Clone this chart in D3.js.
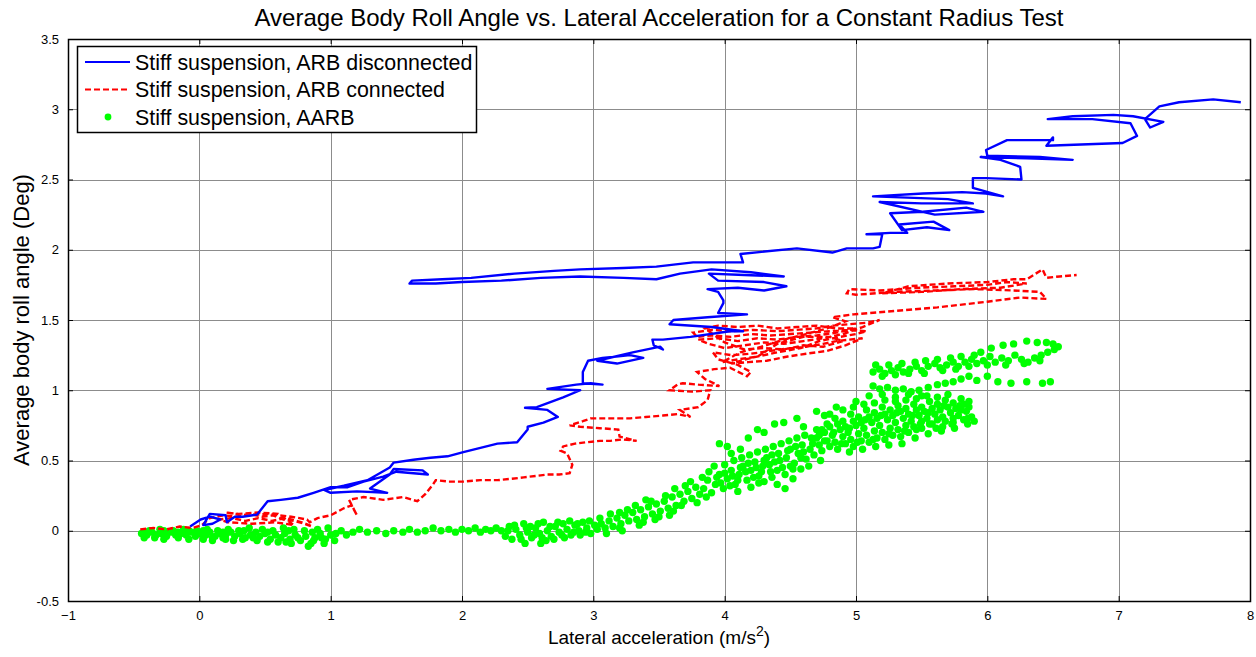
<!DOCTYPE html>
<html>
<head>
<meta charset="utf-8">
<script src="https://cdn.jsdelivr.net/npm/d3@7"></script>
<style>
  body { margin: 0; background: #fff; }
  svg { display: block; font-family: "Liberation Sans", Arial, sans-serif; }
</style>
</head>
<body>
<svg id="chart"></svg>
<script>
const width = 1256;
const height = 657;
const margin = {top: 39, right: 6, bottom: 56, left: 68};

const titleText = "Average Body Roll Angle vs. Lateral Acceleration for a Constant Radius Test";
const xTicks = [-1, 0, 1, 2, 3, 4, 5, 6, 7, 8];
const yTicks = [-0.5, 0, 0.5, 1, 1.5, 2, 2.5, 3, 3.5];
const seriesNames = ["Stiff suspension, ARB disconnected", "Stiff suspension, ARB connected", "Stiff suspension, AARB"];

// ARB disconnected (blue, solid) - [lateral acc, roll angle]
const disconnected = [
  [-0.07,0.03],[0.01,0.08],[0.08,0.10],[0.16,0.08],[0.10,0.05],[0.03,0.04],[0.08,0.12],[0.20,0.11],[0.21,0.06],
  [0.27,0.10],[0.33,0.10],[0.44,0.115],[0.52,0.21],[0.62,0.22],[0.75,0.235],[0.87,0.27],[1.00,0.31],[1.13,0.31],
  [1.25,0.35],[1.40,0.385],[1.50,0.42],[1.74,0.40],[1.70,0.43],[1.48,0.44],[1.45,0.40],[1.30,0.30],[1.43,0.27],
  [1.20,0.28],[1.00,0.27],[0.95,0.29],[1.10,0.32],[1.28,0.36],[1.45,0.45],
  [1.48,0.485],[1.63,0.505],[1.76,0.52],[1.89,0.53],[2.01,0.56],[2.14,0.59],[2.27,0.62],
  [2.42,0.63],[2.50,0.72],[2.50,0.74],[2.62,0.77],[2.73,0.81],[2.65,0.86],[2.48,0.875],[2.57,0.88],[2.77,0.95],
  [2.90,1.00],[2.65,1.01],[2.87,1.04],[2.98,1.05],[3.07,1.04],[2.92,1.05],[2.92,1.13],[2.96,1.21],[3.07,1.23],
  [3.28,1.25],[3.38,1.23],[3.18,1.19],[3.03,1.21],[3.30,1.27],[3.51,1.31],[3.53,1.29],[3.46,1.32],[3.45,1.36],
  [3.53,1.36],[3.74,1.38],[4.04,1.42],[4.14,1.42],[3.90,1.45],[3.58,1.47],[3.61,1.50],[3.87,1.52],[4.17,1.54],
  [3.95,1.55],[3.99,1.62],[3.99,1.64],[3.95,1.70],[3.87,1.72],[4.10,1.73],[4.30,1.71],[4.47,1.74],[4.30,1.77],
  [3.95,1.78],[3.88,1.83],[4.15,1.82],[4.45,1.81],[4.20,1.84],[3.90,1.86],[3.66,1.83],[3.48,1.79],[3.23,1.80],
  [2.90,1.81],[2.60,1.80],[2.30,1.78],[2.00,1.77],[1.80,1.76],[1.60,1.76],[1.62,1.78],[1.85,1.79],[2.07,1.80],
  [2.40,1.83],[2.70,1.85],[2.90,1.86],[3.23,1.87],[3.48,1.88],[3.76,1.91],[3.96,1.91],[4.14,1.91],[4.12,1.97],
  [4.55,2.01],[4.82,1.98],[4.93,2.01],[5.13,2.01],[5.18,2.02],[5.20,2.11],[5.08,2.11],[5.26,2.12],[5.39,2.12],
  [5.33,2.18],[5.59,2.20],[5.71,2.14],[5.54,2.16],[5.35,2.14],[5.26,2.26],[5.51,2.27],[5.84,2.30],[5.97,2.27],
  [5.60,2.25],[5.18,2.34],[5.50,2.33],[5.89,2.33],[5.70,2.36],[5.13,2.38],[5.51,2.40],[5.81,2.41],[5.99,2.40],
  [6.12,2.38],[5.89,2.44],[5.89,2.51],[5.99,2.51],[6.26,2.50],[6.25,2.59],[6.10,2.64],[5.95,2.66],[6.30,2.65],
  [6.65,2.64],[6.40,2.66],[6.00,2.67],[5.99,2.71],[6.15,2.78],[6.50,2.78],[6.50,2.80],[6.45,2.74],[7.03,2.76],
  [7.14,2.81],[7.09,2.90],[6.80,2.93],[6.46,2.93],[6.65,2.95],[6.96,2.96],[7.11,2.95],[7.34,2.91],[7.24,2.87],
  [7.20,2.93],[7.31,3.02],[7.46,3.05],[7.72,3.07],[7.93,3.05]
];

// ARB connected (red, dashed)
const connected = [
  [-0.45,0.01],[-0.35,0.02],[-0.25,0.01],[-0.15,0.03],[-0.05,0.02],[0.02,0.04],[0.08,0.09],[0.18,0.11],[0.28,0.10],
  [0.38,0.12],[0.48,0.10],[0.56,0.11],[0.64,0.08],[0.72,0.07],[0.80,0.05],[0.86,0.03],[0.78,0.06],[0.66,0.09],
  [0.55,0.07],[0.45,0.09],[0.35,0.07],[0.25,0.09],[0.15,0.08],[0.22,0.06],[0.40,0.05],[0.58,0.06],[0.72,0.04],
  [0.60,0.12],[0.45,0.13],[0.30,0.12],[0.20,0.13],[0.35,0.11],[0.52,0.12],[0.70,0.10],[0.82,0.08],
  [0.84,0.06],[0.90,0.09],[1.00,0.11],[1.10,0.16],[1.16,0.18],[1.20,0.11],[1.14,0.22],[1.25,0.24],[1.40,0.22],
  [1.55,0.24],[1.66,0.21],[1.72,0.26],[1.78,0.33],[1.80,0.36],[1.90,0.35],[2.01,0.35],[2.14,0.36],[2.27,0.36],
  [2.38,0.37],[2.47,0.38],[2.56,0.39],[2.65,0.40],[2.74,0.40],[2.82,0.41],[2.84,0.47],[2.80,0.55],[2.75,0.57],
  [2.77,0.60],[2.86,0.62],[2.95,0.63],[3.05,0.64],[3.13,0.64],[3.22,0.65],[3.33,0.64],[3.20,0.67],[3.19,0.72],
  [3.05,0.73],[2.90,0.74],[2.82,0.75],[2.92,0.78],[2.98,0.80],[3.12,0.80],[3.28,0.80],[3.40,0.81],[3.53,0.82],
  [3.64,0.83],[3.74,0.81],[3.66,0.86],[3.80,0.88],[3.87,0.93],[3.89,1.00],[3.75,0.99],[3.58,1.00],[3.64,1.04],
  [3.68,1.05],[3.80,1.04],[3.96,1.03],[3.85,1.08],[3.79,1.13],[3.92,1.15],[4.04,1.16],[4.17,1.10],[4.20,1.13],
  [4.10,1.18],[3.95,1.22],[3.91,1.27],[4.05,1.25],[4.20,1.26],[4.35,1.28],[4.50,1.30],[4.62,1.31],[4.75,1.33],
  [4.85,1.35],[4.95,1.36],[5.05,1.37],[4.92,1.32],[4.78,1.28],[4.62,1.26],[4.48,1.24],[4.32,1.21],[4.18,1.20],
  [4.05,1.19],[4.20,1.23],[4.40,1.27],[4.58,1.30],[4.72,1.35],[4.88,1.38],[5.00,1.40],[5.08,1.42],[4.95,1.43],
  [4.80,1.42],[4.65,1.41],[4.50,1.40],[4.35,1.39],[4.20,1.40],[4.05,1.38],[3.90,1.39],[3.79,1.38],[3.76,1.41],
  [3.90,1.43],[4.05,1.42],[4.22,1.43],[4.40,1.42],[4.55,1.43],[4.70,1.44],[4.82,1.46],[4.95,1.47],[5.08,1.48],
  [5.18,1.50],[5.05,1.45],[4.90,1.40],[4.75,1.37],[4.60,1.35],[4.45,1.33],[4.30,1.34],[4.15,1.32],[4.00,1.30],
  [3.88,1.33],[3.80,1.36],[3.95,1.37],[4.10,1.35],[4.25,1.37],[4.40,1.36],[4.55,1.38],[4.70,1.39],[4.85,1.41],
  [5.00,1.44],[4.85,1.44],[4.70,1.46],[4.55,1.45],[4.40,1.44],[4.25,1.46],[4.10,1.45],[3.95,1.46],[3.85,1.44],
  [4.00,1.34],[4.15,1.29],[4.30,1.30],[4.45,1.29],[4.60,1.32],[4.75,1.31],[4.90,1.35],[4.80,1.38],[4.60,1.38],
  [4.40,1.33],[4.25,1.24],[4.10,1.22],[3.98,1.20],[4.12,1.27],[4.28,1.31],[4.45,1.36],[4.62,1.40],[4.78,1.44],
  [4.92,1.49],[4.82,1.52],[4.98,1.54],[5.24,1.56],[5.62,1.59],[6.00,1.63],[6.25,1.66],
  [6.45,1.65],[6.40,1.70],[6.20,1.71],[5.90,1.72],[5.60,1.71],[5.30,1.70],[5.00,1.68],[4.93,1.69],[4.95,1.72],
  [5.18,1.71],[5.49,1.73],[5.75,1.74],[6.00,1.75],[6.15,1.77],[6.30,1.76],[6.10,1.73],[5.80,1.72],[5.50,1.70],
  [5.20,1.69],[5.40,1.74],[5.70,1.76],[6.00,1.77],[6.20,1.79],[6.30,1.79],[6.42,1.86],[6.45,1.80],[6.55,1.81],
  [6.68,1.82]
];

// AARB (green, dots)
const aarb = [
  // low speed band
  [-0.44,-0.02],[-0.40,-0.03],[-0.36,-0.01],[-0.33,-0.03],[-0.29,-0.02],[-0.25,-0.04],[-0.22,-0.01],[-0.18,-0.03],
  [-0.14,-0.02],[-0.10,-0.03],[-0.06,-0.01],[-0.03,-0.04],[0.01,-0.02],[0.05,-0.03],[0.08,-0.01],[0.12,-0.04],
  [0.16,-0.02],[0.20,-0.03],[0.24,-0.01],[0.27,-0.04],[0.31,-0.02],[0.35,-0.05],[0.39,-0.03],[0.43,-0.01],
  [0.46,-0.04],[0.50,-0.02],[0.54,-0.06],[0.58,-0.03],[0.62,-0.05],[0.65,-0.02],[0.69,-0.06],[0.73,-0.03],
  [0.77,-0.07],[0.81,-0.04],[0.85,-0.09],[0.88,-0.05],[0.92,-0.02],[0.96,-0.06],[1.00,-0.03],
  [-0.38,0.00],[-0.30,0.01],[-0.20,0.00],[-0.12,0.01],[-0.02,0.00],[0.06,0.01],[0.14,0.00],[0.22,0.01],
  [0.30,0.00],[0.38,0.02],[0.48,0.01],[0.56,0.00],[0.64,0.02],[0.72,0.01],[0.80,0.00],[0.90,0.01],[0.98,0.02],
  [0.44,-0.07],[0.60,-0.08],[0.70,-0.09],[0.83,-0.11],[0.95,-0.09],[1.03,-0.07],[0.20,-0.06],[0.10,-0.05],
  [-0.42,-0.05],[-0.34,-0.05],[-0.27,-0.06],[-0.16,-0.05],[-0.08,-0.06],[0.03,-0.06],[0.10,-0.07],[0.18,-0.05],
  [0.26,-0.07],[0.33,-0.06],[0.41,-0.05],[0.52,-0.08],[0.66,-0.08],[0.75,-0.05],[0.87,-0.07],[0.93,-0.05],
  [-0.41,-0.01],[-0.27,0.00],[-0.16,-0.01],[-0.08,0.00],[0.03,0.00],[0.18,-0.01],[0.34,0.00],[0.52,-0.01],
  [0.68,0.00],[0.86,-0.01],
  [1.04,-0.02],[1.08,0.00],[1.12,-0.03],[1.17,-0.01],[1.22,0.01],[1.28,-0.01],[1.35,0.00],[1.42,-0.02],
  [1.48,0.00],[1.55,-0.01],[1.60,0.01],[1.66,-0.01],[1.72,0.00],[1.78,0.02],[1.84,0.00],[1.90,0.01],
  [1.95,-0.01],[2.00,0.01],[2.05,0.00],[2.10,0.02],[2.14,-0.01],[2.18,0.01],[2.22,0.00],[2.26,0.02],
  [2.30,0.00],[2.33,-0.04],[2.36,0.03],[2.38,-0.06],[2.41,0.01],[2.44,-0.03],[2.47,0.05],[2.50,-0.01],
  [2.53,-0.05],[2.56,0.02],[2.59,-0.02],[2.62,0.06],[2.65,0.00],[2.68,-0.04],[2.71,0.03],[2.74,-0.01],
  [2.77,0.05],[2.80,0.01],[2.83,-0.03],[2.86,0.04],[2.89,0.00],[2.92,0.06],[2.95,0.02],[2.98,-0.02],[3.01,0.04],
  [2.40,0.04],[2.52,0.03],[2.64,-0.07],[2.78,-0.05],[2.90,-0.03],
  [2.35,0.00],[2.45,-0.06],[2.49,0.02],[2.55,-0.03],[2.58,0.05],[2.61,-0.05],[2.67,0.03],[2.70,-0.06],
  [2.73,0.06],[2.76,-0.03],[2.82,0.07],[2.85,-0.01],[2.88,0.05],[2.94,-0.01],[2.97,0.07],[2.48,-0.09],[2.60,-0.09],
  // rising part
  [3.03,0.01],[3.06,0.05],[3.09,0.02],[3.12,0.07],[3.15,0.03],[3.18,0.09],[3.21,0.05],[3.24,0.11],[3.27,0.07],
  [3.30,0.13],[3.33,0.08],[3.36,0.15],[3.39,0.10],[3.42,0.17],[3.45,0.12],[3.48,0.19],[3.51,0.14],[3.54,0.21],
  [3.57,0.16],[3.60,0.24],[3.63,0.18],[3.66,0.26],[3.69,0.21],[3.72,0.28],[3.75,0.23],[3.78,0.31],[3.81,0.26],
  [3.10,-0.02],[3.22,0.00],[3.35,0.04],[3.47,0.08],[3.58,0.11],[3.20,0.13],[3.40,0.22],[3.62,0.30],
  [3.05,0.09],[3.13,0.12],[3.20,0.02],[3.26,0.15],[3.32,0.18],[3.38,0.06],[3.44,0.21],[3.50,0.10],[3.55,0.25],
  [3.61,0.14],[3.67,0.18],[3.70,0.32],[3.74,0.35],[3.79,0.20],[3.83,0.38],[3.86,0.24],
  [3.84,0.30],[3.87,0.36],[3.90,0.27],[3.93,0.33],[3.96,0.40],[3.99,0.30],[4.02,0.37],[4.05,0.43],[4.08,0.33],
  [4.11,0.40],[4.14,0.46],[4.17,0.36],[4.20,0.43],[4.23,0.49],[4.26,0.39],[4.29,0.46],[4.32,0.52],[4.35,0.42],
  [4.38,0.49],[4.41,0.55],[4.44,0.45],[4.47,0.52],[4.50,0.58],[4.53,0.48],[4.56,0.55],[4.59,0.61],[4.62,0.51],
  [4.65,0.58],[4.40,0.33],[4.46,0.30],[4.52,0.37],[4.30,0.35],[4.20,0.31],[4.10,0.28],
  [3.88,0.42],[3.92,0.46],[3.97,0.34],[4.00,0.47],[4.04,0.32],[4.07,0.50],[4.10,0.36],[4.13,0.52],[4.16,0.42],
  [4.19,0.54],[4.22,0.38],[4.25,0.56],[4.28,0.42],[4.31,0.58],[4.34,0.47],[4.37,0.60],[4.40,0.43],[4.43,0.62],
  [4.46,0.40],[4.49,0.64],[4.52,0.44],[4.55,0.66],[4.58,0.52],[4.61,0.68],[4.64,0.46],[4.67,0.62],[4.70,0.72],
  [4.73,0.50],[4.76,0.64],
  [3.94,0.38],[4.00,0.41],[4.06,0.39],[4.12,0.45],[4.18,0.48],[4.24,0.45],[4.30,0.50],[4.36,0.54],[4.42,0.50],
  [4.48,0.57],[4.54,0.60],[4.60,0.56],[4.66,0.66],[4.72,0.68],[4.50,0.46],[4.58,0.44],[4.36,0.38],[4.26,0.34],
  [3.96,0.62],[4.02,0.60],[4.18,0.66],[4.25,0.72],[4.30,0.70],[4.38,0.76],[4.45,0.77],[4.55,0.80],[4.60,0.74],
  [4.70,0.85],[4.76,0.82],[4.05,0.55],[4.12,0.58],
  // main block
  [4.68,0.54],[4.74,0.57],[4.80,0.60],[4.86,0.58],[4.92,0.62],[4.98,0.60],[5.04,0.64],[5.10,0.63],[5.16,0.66],
  [5.22,0.65],[5.28,0.68],[5.34,0.67],[5.40,0.70],[5.46,0.72],
  [4.70,0.66],[4.76,0.70],[4.82,0.68],[4.88,0.72],[4.94,0.70],[5.00,0.75],[5.06,0.73],[5.12,0.77],[5.18,0.75],
  [5.24,0.79],[5.30,0.77],[5.36,0.80],[5.42,0.78],[5.48,0.82],[5.54,0.80],[5.60,0.83],[5.66,0.81],[5.72,0.84],
  [5.78,0.82],[5.84,0.85],
  [4.78,0.76],[4.84,0.80],[4.90,0.78],[4.96,0.83],[5.02,0.81],[5.08,0.86],[5.14,0.84],[5.20,0.88],[5.26,0.86],
  [5.32,0.89],[5.38,0.87],[5.44,0.90],[5.50,0.88],[5.56,0.92],[5.62,0.90],[5.68,0.93],[5.74,0.91],[5.80,0.94],
  [5.86,0.92],[4.85,0.88],[5.00,0.92],[5.10,0.96],[5.20,0.97],[5.30,0.95],[5.40,0.97],[5.50,0.96],
  [5.50,0.73],[5.58,0.76],[5.66,0.74],[5.74,0.77],[5.82,0.79],[5.88,0.81],
  [4.72,0.61],[4.78,0.64],[4.84,0.63],[4.90,0.67],[4.96,0.65],[5.02,0.69],[5.08,0.68],[5.14,0.71],[5.20,0.70],
  [5.26,0.73],[5.32,0.72],[5.38,0.75],[5.44,0.74],[5.50,0.78],[5.56,0.76],[5.62,0.79],[5.68,0.78],[5.74,0.80],
  [5.80,0.86],[5.86,0.88],
  [4.74,0.72],[4.80,0.74],[4.86,0.76],[4.92,0.74],[4.98,0.78],[5.04,0.77],[5.10,0.81],[5.16,0.80],[5.22,0.83],
  [5.28,0.82],[5.34,0.85],[5.40,0.83],[5.46,0.86],[5.52,0.85],[5.58,0.87],[5.64,0.86],[5.70,0.88],[5.76,0.87],
  [5.82,0.90],
  [4.80,0.83],[4.90,0.86],[4.98,0.88],[5.06,0.90],[5.14,0.91],[5.22,0.93],[5.30,0.92],[5.38,0.93],[5.46,0.94],
  [5.54,0.96],[5.62,0.95],[5.70,0.97],
  [4.95,0.56],[5.05,0.58],[5.15,0.60],[5.25,0.61],[5.35,0.62],[5.45,0.66],[5.55,0.69],[5.65,0.71],[5.75,0.73],
  [5.85,0.76],[5.90,0.78],
  [4.83,0.70],[4.89,0.62],[4.95,0.73],[5.01,0.63],[5.07,0.79],[5.13,0.65],[5.19,0.82],[5.25,0.69],[5.31,0.84],
  [5.37,0.71],[5.43,0.82],[5.49,0.76],[5.55,0.84],[5.61,0.73],[5.67,0.89],[5.73,0.76],[5.79,0.89],[5.85,0.80],
  // high speed band
  [5.13,1.13],[5.18,1.15],[5.22,1.12],[5.27,1.14],[5.32,1.16],[5.36,1.13],[5.41,1.15],[5.46,1.17],[5.50,1.14],
  [5.55,1.17],[5.60,1.19],[5.64,1.16],[5.69,1.18],[5.74,1.20],[5.78,1.17],[5.83,1.20],[5.88,1.22],[5.92,1.19],
  [5.97,1.21],[6.02,1.24],[6.06,1.20],[6.11,1.23],[6.16,1.21],[6.21,1.25],[6.26,1.22],[6.31,1.20],[6.36,1.23],
  [6.41,1.25],[6.46,1.27],[6.51,1.29],[6.54,1.31],
  [5.15,1.18],[5.25,1.18],[5.35,1.19],[5.45,1.20],[5.53,1.21],[5.62,1.22],[5.72,1.23],[5.80,1.24],[5.90,1.25],
  [5.20,1.10],[5.30,1.11],[5.40,1.12],[5.52,1.12],[5.66,1.14],[5.76,1.15],[5.86,1.17],[6.00,1.18],[6.14,1.18],
  [6.28,1.19],[6.40,1.21],
  [5.95,1.27],[6.03,1.30],[6.12,1.32],[6.20,1.33],[6.30,1.35],[6.38,1.34],[6.45,1.34],[6.50,1.33],
  [5.13,1.03],[5.18,1.01],[5.24,1.02],[5.30,1.00],[5.36,1.01],[5.42,0.99],[5.48,1.00],[5.55,1.02],[5.62,1.04],
  [5.68,1.05],[5.74,1.06],[5.80,1.08],[5.86,1.10],[5.92,1.07],[6.00,1.10],[6.08,1.06],[6.18,1.05],[6.30,1.06],
  [6.42,1.05],[6.48,1.06]
];

const svg = d3.select("#chart").attr("width", width).attr("height", height);

const x = d3.scaleLinear([-1, 8], [margin.left, width - margin.right]);
const y = d3.scaleLinear([-0.5, 3.5], [height - margin.bottom, margin.top]);

svg.append("defs").append("clipPath").attr("id", "plotClip")
  .append("rect")
    .attr("x", margin.left).attr("y", margin.top)
    .attr("width", width - margin.left - margin.right)
    .attr("height", height - margin.top - margin.bottom);

// grid
const grid = svg.append("g").attr("stroke", "#8c8c8c").attr("stroke-width", 1);
grid.selectAll(".gx").data(xTicks.slice(1, -1)).join("line")
    .attr("x1", d => Math.round(x(d)) + 0.5).attr("x2", d => Math.round(x(d)) + 0.5)
    .attr("y1", margin.top).attr("y2", height - margin.bottom);
grid.selectAll(".gy").data(yTicks.slice(1, -1)).join("line")
    .attr("y1", d => Math.round(y(d)) + 0.5).attr("y2", d => Math.round(y(d)) + 0.5)
    .attr("x1", margin.left).attr("x2", width - margin.right);

// data
const plot = svg.append("g").attr("clip-path", "url(#plotClip)");
const line = d3.line().x(d => x(d[0])).y(d => y(d[1]));

plot.append("g").selectAll("circle").data(aarb).join("circle")
    .attr("cx", d => x(d[0])).attr("cy", d => y(d[1])).attr("r", 3.7)
    .attr("fill", "#00ff00");

plot.append("path").datum(connected)
    .attr("fill", "none").attr("stroke", "#ff0000").attr("stroke-width", 2.4)
    .attr("stroke-dasharray", "6,3")
    .attr("d", line);

plot.append("path").datum(disconnected)
    .attr("fill", "none").attr("stroke", "#0000ff").attr("stroke-width", 2.4)
    .attr("stroke-linejoin", "round")
    .attr("d", line);

// axes (box with inward ticks on all four sides)
const tickLen = 5;
const axisFont = g => g.attr("font-size", 13).attr("font-family", "'Liberation Sans', Arial, sans-serif");

svg.append("g").attr("transform", `translate(0,${height - margin.bottom})`)
  .call(d3.axisBottom(x).tickValues(xTicks).tickSize(-tickLen).tickPadding(10).tickFormat(d3.format("d")))
  .call(axisFont)
  .call(g => g.select(".domain").remove());
svg.append("g").attr("transform", `translate(0,${margin.top})`)
  .call(d3.axisTop(x).tickValues(xTicks).tickSize(-tickLen).tickFormat(""))
  .call(g => g.select(".domain").remove());
svg.append("g").attr("transform", `translate(${margin.left},0)`)
  .call(d3.axisLeft(y).tickValues(yTicks).tickSize(-tickLen).tickPadding(9).tickFormat(d => String(d)))
  .call(axisFont)
  .call(g => g.select(".domain").remove());
svg.append("g").attr("transform", `translate(${width - margin.right},0)`)
  .call(d3.axisRight(y).tickValues(yTicks).tickSize(-tickLen).tickFormat(""))
  .call(g => g.select(".domain").remove());

svg.selectAll(".tick text").attr("fill", "#000");
svg.selectAll(".tick line").attr("stroke", "#000");

svg.append("rect")
    .attr("x", margin.left + 0.5).attr("y", margin.top + 0.5)
    .attr("width", width - margin.left - margin.right)
    .attr("height", height - margin.top - margin.bottom)
    .attr("fill", "none").attr("stroke", "#000").attr("stroke-width", 1.5);

// title and labels
svg.append("text")
    .attr("x", (margin.left + width - margin.right) / 2).attr("y", 26)
    .attr("text-anchor", "middle").attr("font-size", 24)
    .text(titleText);

const xLabel = svg.append("text")
    .attr("x", (margin.left + width - margin.right) / 2).attr("y", 644)
    .attr("text-anchor", "middle").attr("font-size", 19);
xLabel.append("tspan").text("Lateral acceleration (m/s");
xLabel.append("tspan").attr("baseline-shift", "super").attr("font-size", 14).text("2");
xLabel.append("tspan").text(")");

svg.append("text")
    .attr("transform", `translate(29,${(margin.top + height - margin.bottom) / 2}) rotate(-90)`)
    .attr("text-anchor", "middle").attr("font-size", 22)
    .text("Average body roll angle (Deg)");

// legend
const legend = svg.append("g").attr("transform", "translate(77,46)");
legend.append("rect")
    .attr("x", 0.5).attr("y", 0.5).attr("width", 399).attr("height", 86)
    .attr("fill", "#fff").attr("stroke", "#000").attr("stroke-width", 1.5);

const legendY = d3.scalePoint().domain(seriesNames).range([16, 71]);
const styles = [
  {stroke: "#0000ff", dash: null},
  {stroke: "#ff0000", dash: "6,3"},
  {stroke: null, dash: null}
];
seriesNames.forEach((name, i) => {
  const cy = legendY(name);
  if (styles[i].stroke) {
    legend.append("line")
      .attr("x1", 8).attr("x2", 53).attr("y1", cy).attr("y2", cy)
      .attr("stroke", styles[i].stroke).attr("stroke-width", 2)
      .attr("stroke-dasharray", styles[i].dash);
  } else {
    legend.append("circle").attr("cx", 31).attr("cy", cy).attr("r", 3.4).attr("fill", "#00ff00");
  }
  legend.append("text")
    .attr("x", 58).attr("y", cy).attr("dy", "0.36em")
    .attr("font-size", 21.4)
    .text(name);
});
</script>
</body>
</html>
